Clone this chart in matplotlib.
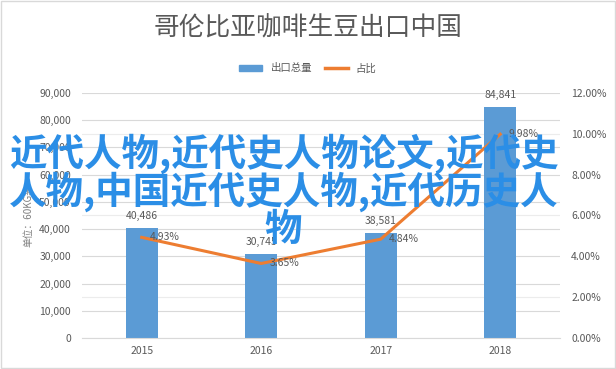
import matplotlib.pyplot as plt
from matplotlib.lines import Line2D
from matplotlib.patches import Patch

plt.rcParams['font.family'] = ['Noto Sans CJK SC', 'DejaVu Sans']

years = ['2015', '2016', '2017', '2018']
volume = [40486, 30745, 38581, 84841]
share = [4.93, 3.65, 4.84, 9.98]

blue = '#5b9bd5'
orange = '#ed7d31'
grey = '#595959'

fig = plt.figure(figsize=(6.16, 3.69), dpi=100)
ax = fig.add_axes([0.133, 0.084, 0.776, 0.664])
ax2 = ax.twinx()

x = range(len(years))
ax.bar(x, volume, width=0.27, color=blue, zorder=2)
ax.set_xlim(-0.5, 3.5)
ax.set_ylim(0, 90000)
ax.set_yticks(range(0, 90001, 10000))
# right-axis gridlines (every 2%) drawn on the left axes so they stay behind bars
ax.set_yticks(range(0, 90001, 15000), minor=True)
ax.yaxis.set_major_formatter(plt.FuncFormatter(lambda v, p: f'{int(v):,}'))
ax.set_xticks(list(x))
ax.set_xticklabels(years)
ax.set_axisbelow(True)
ax.grid(axis='y', which='major', color='#d9d9d9', lw=0.8)
ax.grid(axis='y', which='minor', color='#ececec', lw=0.8)
ax.set_ylabel('单位：60KG袋', fontsize=7, color='#7f7f7f', labelpad=4)

ax2.plot(x, share, color=orange, lw=2.2, zorder=3)
ax2.set_ylim(0, 12)
ax2.set_yticks(range(0, 13, 2))
ax2.yaxis.set_major_formatter(plt.FuncFormatter(lambda v, p: f'{v:.2f}%'))

for a in (ax, ax2):
    for s in a.spines.values():
        s.set_visible(False)
    a.tick_params(which='both', length=0, labelsize=7.5, labelcolor=grey)
ax.spines['bottom'].set_visible(True)
ax.spines['bottom'].set_color('#d9d9d9')
ax.tick_params(axis='x', pad=6)
ax.tick_params(axis='y', pad=8)
ax2.tick_params(axis='y', pad=8)

for i, v in enumerate(volume):
    ax.annotate(f'{v:,}', (i, v), xytext=(0, 5), textcoords='offset points',
                ha='center', va='bottom', fontsize=7.5, color=grey)
for i, v in enumerate(share):
    ax2.annotate(f'{v:.2f}%', (i, v), xytext=(6, 0), textcoords='offset points',
                 ha='left', va='center', fontsize=7.5, color=grey)

fig.text(0.5, 0.924, '哥伦比亚咖啡生豆出口中国', ha='center', va='center',
         fontsize=18.5, color=grey, fontweight='light')
handles = [Patch(color=blue), Line2D([0], [0], color=orange, lw=2.5)]
fig.legend(handles, ['出口总量', '占比'], loc='center', bbox_to_anchor=(0.5, 0.815),
           ncol=2, frameon=False, fontsize=7.5, handlelength=2.2, handleheight=0.5,
           columnspacing=1.2, labelcolor=grey)

overlay = '近代人物,近代史人物论文,近代史\n人物,中国近代史人物,近代历史人\n物'
fig.text(0.46, 0.482, overlay, ha='center', va='center', fontsize=27,
         fontweight='bold', color='#2b8ee6', linespacing=0.92, zorder=10)

fig.patches.append(plt.Rectangle((0.002, 0.003), 0.996, 0.994, transform=fig.transFigure,
                                 fill=False, edgecolor='#d9d9d9', lw=1))
fig.savefig('out.png', dpi=100)
